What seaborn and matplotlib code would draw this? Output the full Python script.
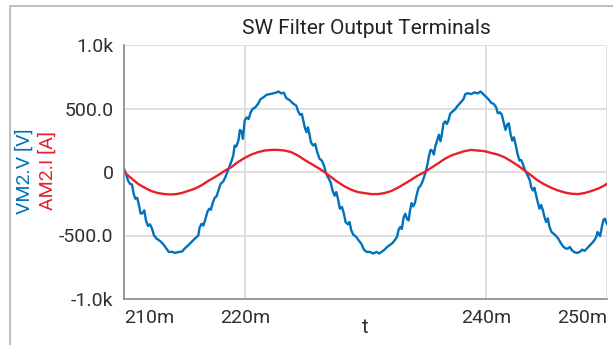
import matplotlib
matplotlib.use("Agg")
import matplotlib.pyplot as plt
import seaborn as sns
from matplotlib.patches import Rectangle

# ---- data (time in ms) ----
t_v_ms = [210.00, 210.19, 210.33, 210.50, 210.66, 210.80, 210.94, 211.10, 211.24, 211.38,
          211.55, 211.68, 211.82, 211.99, 212.15, 212.32, 212.48, 212.70, 212.98, 213.26,
          213.53, 213.70, 213.97, 214.25, 214.53, 214.80, 215.02, 215.30, 215.57, 215.79,
          216.02, 216.15, 216.26, 216.43, 216.57, 216.73, 216.90, 217.06, 217.20, 217.34,
          217.51, 217.67, 217.84, 218.00, 218.22, 218.39, 218.55, 218.72, 218.89, 219.05,
          219.16, 219.30, 219.48, 219.60, 219.74, 219.85, 219.99, 220.15, 220.32, 220.49,
          220.65, 220.87, 221.09, 221.31, 221.53, 221.81, 222.09, 222.36, 222.64, 222.80,
          223.02, 223.24, 223.44, 223.71, 223.99, 224.27, 224.40, 224.57, 224.73, 224.85,
          224.98, 225.12, 225.23, 225.34, 225.48, 225.67, 225.84, 226.00, 226.20, 226.39,
          226.56, 226.70, 226.89, 227.11, 227.27, 227.44, 227.58, 227.72, 227.88, 228.05,
          228.21, 228.35, 228.54, 228.68, 228.82, 228.98, 229.23, 229.43, 229.65, 229.87,
          230.09, 230.37, 230.64, 230.92, 231.14, 231.36, 231.58, 231.80, 232.02, 232.24,
          232.46, 232.63, 232.74, 232.88, 233.01, 233.15, 233.29, 233.43, 233.57, 233.68,
          233.81, 233.95, 234.09, 234.23, 234.39, 234.56, 234.70, 234.83, 234.97, 235.11,
          235.25, 235.39, 235.52, 235.66, 235.80, 235.94, 236.08, 236.21, 236.33, 236.46,
          236.60, 236.74, 236.88, 237.01, 237.18, 237.37, 237.57, 237.76, 237.95, 238.12,
          238.26, 238.48, 238.75, 239.03, 239.30, 239.53, 239.75, 239.97, 240.19, 240.41,
          240.63, 240.82, 240.96, 241.13, 241.29, 241.46, 241.60, 241.73, 241.87, 242.01,
          242.15, 242.29, 242.42, 242.59, 242.75, 242.89, 243.03, 243.17, 243.33, 243.47,
          243.61, 243.72, 243.86, 243.99, 244.13, 244.27, 244.41, 244.55, 244.69, 244.82,
          244.96, 245.10, 245.24, 245.40, 245.57, 245.76, 245.98, 246.20, 246.40, 246.59,
          246.76, 246.92, 247.09, 247.31, 247.53, 247.75, 247.94, 248.14, 248.33, 248.55,
          248.77, 248.99, 249.13, 249.21, 249.32, 249.43, 249.57, 249.71, 249.82, 249.96,
          250.00]
vm2_v = [25, -20, -67, -93, -98, -171, -211, -203, -263, -328,
         -323, -302, -381, -425, -412, -446, -498, -525, -543, -569,
         -606, -629, -629, -637, -629, -627, -603, -579, -553, -532,
         -511, -501, -438, -407, -422, -375, -315, -289, -297, -245,
         -203, -190, -140, -93, -75, -41, -1, 43, 82, 130,
         208, 200, 250, 331, 320, 262, 404, 430, 417, 470,
         496, 509, 535, 574, 587, 608, 614, 619, 627, 634,
         619, 624, 582, 566, 540, 522, 483, 451, 457, 404,
         347, 313, 352, 305, 234, 208, 221, 156, 103, 90,
         51, -1, -41, -80, -145, -187, -158, -211, -289, -276,
         -328, -394, -412, -394, -459, -493, -511, -538, -564, -611,
         -629, -629, -642, -629, -642, -627, -611, -590, -574, -559,
         -532, -506, -454, -433, -449, -360, -328, -368, -381, -307,
         -245, -271, -245, -184, -124, -109, -80, -46, -1, 51,
         122, 174, 169, 137, 208, 252, 294, 242, 299, 383,
         399, 378, 409, 457, 475, 488, 514, 535, 556, 574,
         613, 621, 613, 627, 619, 634, 614, 593, 572, 545,
         535, 509, 462, 470, 451, 383, 331, 373, 383, 300,
         247, 273, 221, 143, 90, 95, 64, 25, -9, -35,
         -67, -119, -145, -124, -184, -239, -289, -260, -302, -354,
         -394, -365, -433, -472, -485, -501, -527, -564, -590, -603,
         -603, -590, -616, -632, -637, -629, -611, -621, -603, -580,
         -559, -532, -506, -472, -485, -506, -433, -376, -368, -402,
         -410]

t_i_ms = [210.00, 210.33, 210.75, 211.16, 211.71, 212.26, 212.81, 213.37, 213.92, 214.33,
          214.75, 215.30, 215.85, 216.40, 216.95, 217.51, 218.06, 218.47, 218.89, 219.30,
          219.99, 220.54, 221.09, 221.64, 222.20, 222.75, 223.30, 223.85, 224.40, 224.96,
          225.51, 226.06, 226.61, 227.16, 227.72, 228.27, 228.82, 229.37, 229.92, 230.47,
          231.03, 231.58, 232.13, 232.68, 233.23, 233.79, 234.34, 234.89, 235.44, 236.03,
          236.55, 237.10, 237.65, 238.20, 238.75, 239.30, 239.86, 240.41, 240.96, 241.51,
          242.06, 242.62, 243.17, 243.72, 244.27, 244.82, 245.38, 245.93, 246.48, 247.03,
          247.58, 248.14, 248.69, 249.24, 249.79, 250.00]
am2_i = [-1, -27, -61, -93, -124, -150, -166, -174, -177, -174,
         -166, -150, -132, -106, -72, -41, -9, 17, 38, 69,
         111, 137, 156, 169, 174, 174, 169, 156, 130, 95,
         64, 33, -1, -41, -80, -114, -140, -158, -166, -174,
         -174, -166, -150, -124, -93, -61, -27, -1, 33, 69,
         103, 130, 148, 164, 174, 169, 164, 150, 137, 116,
         85, 51, 12, -27, -67, -98, -124, -145, -161, -171,
         -174, -166, -150, -132, -106, -92]

x_ticks_ms = [210, 220, 240, 250]
x_tick_labels = ["210m", "220m", "240m", "250m"]
y_ticks = [-1000, -500, 0, 500, 1000]
y_tick_labels = ["-1.0k", "-500.0", "0", "500.0", "1.0k"]

title = "SW Filter Output Terminals"
blue_label = "VM2.V [V]"
red_label = "AM2.I [A]"

BLUE = "#0072BD"
RED = "#E8202A"
GRID = "#dcdcdc"
AXC = "#8c8c8c"
TXT = "#303030"

sns.set_style("white")
plt.rcParams['font.family'] = ['Roboto', 'DejaVu Sans']

W, H = 613, 345
fig = plt.figure(figsize=(W / 100, H / 100), dpi=100)
ax = fig.add_axes([124 / W, 1 - 299 / H, (607 - 124) / W, (299 - 45) / H])

sns.lineplot(x=t_v_ms, y=vm2_v, ax=ax, color=BLUE, linewidth=1.7, estimator=None)
sns.lineplot(x=t_i_ms, y=am2_i, ax=ax, color=RED, linewidth=1.7, estimator=None)

ax.set_xlim(210, 250)
ax.set_ylim(-1000, 1000)
ax.set_xticks(x_ticks_ms)
ax.set_xticklabels(x_tick_labels)
ax.set_yticks(y_ticks)
ax.set_yticklabels(y_tick_labels)
labs = ax.get_xticklabels()
labs[0].set_ha('left')
labs[-1].set_ha('right')

ax.grid(True, color=GRID, linewidth=1.3)
ax.set_axisbelow(True)
for s in ['top', 'right']:
    ax.spines[s].set_visible(False)
for s in ['left', 'bottom']:
    ax.spines[s].set_color(AXC)
    ax.spines[s].set_linewidth(1.2)
ax.tick_params(axis='both', direction='out', length=4.5, width=1.2, color=AXC,
               labelcolor=TXT, labelsize=14, pad=3)

ax.set_xlabel('t', fontsize=14.5, color=TXT, va='top')
ax.xaxis.set_label_coords(0.5, -0.075)
ax.set_ylabel('')

fig.text(366 / W, 1 - 34 / H, title, ha='center', va='baseline', fontsize=15,
         color='#222222')
fig.text(25 / W, 1 - 171 / H, blue_label, rotation=90, ha='center', va='center',
         fontsize=14, color=BLUE)
fig.text(47.5 / W, 1 - 171 / H, red_label, rotation=90, ha='center', va='center',
         fontsize=14, color=RED)

fig.add_artist(Rectangle((9.5 / W, -0.5), 2.0, 1.5 - 6 / H, transform=fig.transFigure,
                         fill=False, edgecolor='#b4b4b4', linewidth=1.2))

fig.savefig("out.png", dpi=100)
